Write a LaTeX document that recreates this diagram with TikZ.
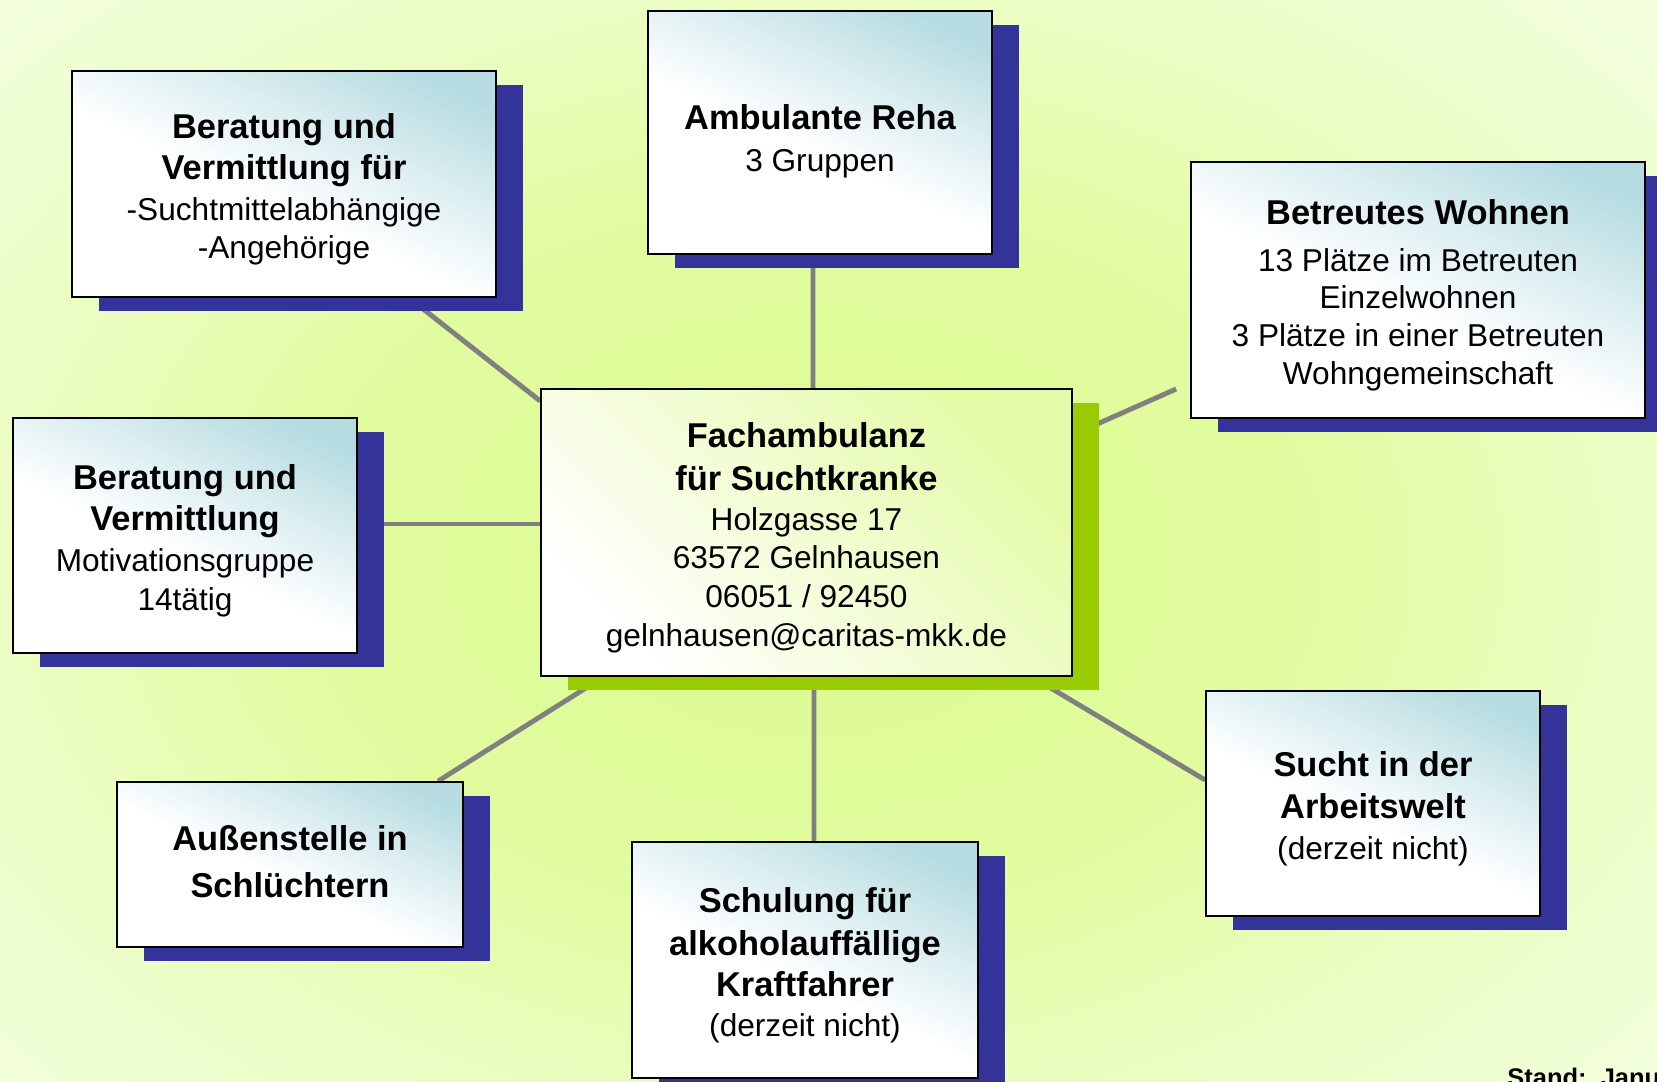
\documentclass[tikz,border=0pt]{standalone}
\usepackage{fontspec}
\setmainfont{Liberation Sans}
\usepackage{xcolor}
\usepackage{tikz}
\usetikzlibrary{calc}
\usetikzlibrary{shadows}
\pgfdeclarelayer{bglayer}
\pgfdeclarelayer{edgelayer}
\pgfsetlayers{bglayer,edgelayer,main}

\definecolor{bgcore}{HTML}{DCFB90}
\definecolor{bgnear}{HTML}{E1FCA0}
\definecolor{bgmid}{HTML}{EAFDBE}
\definecolor{bgfar}{HTML}{F3FEE0}
\definecolor{bgedge}{HTML}{FBFFF4}
\definecolor{boxteal}{HTML}{B6DCE1}
\definecolor{hubtint}{HTML}{E4FBA8}
\definecolor{navyshadow}{HTML}{333399}
\definecolor{limeshadow}{HTML}{99CC00}
\definecolor{spokegray}{HTML}{808080}

\pgfdeclareradialshading{glow}{\pgfpoint{0bp}{0bp}}{color(0bp)=(bgcore); color(14bp)=(bgnear); color(21bp)=(bgmid); color(32bp)=(bgfar); color(42bp)=(bgedge); color(75bp)=(bgedge)}
\pgfdeclareverticalshading{tealfade}{100bp}{color(0bp)=(white); color(46bp)=(white); color(62bp)=(boxteal!50!white); color(77bp)=(boxteal); color(100bp)=(boxteal)}

\newcommand{\hd}[1]{{\fontsize{19.6}{22}\selectfont\bfseries #1}}
\newcommand{\headroom}[1]{\rule{0pt}{#1}}

\tikzset{
    unit/.style={draw=black, line width=1pt, align=center, inner sep=0pt,
        shading=tealfade, shading angle=-25,
        general shadow={fill=navyshadow, shadow xshift=0.54cm, shadow yshift=-0.28cm}},
    hub/.style={draw=black, line width=1pt, align=center, inner sep=0pt,
        top color=hubtint, middle color=hubtint!45!white, bottom color=white, shading angle=-45,
        general shadow={fill=limeshadow, shadow xshift=0.54cm, shadow yshift=-0.28cm}},
    spokeline/.style={draw=spokegray, line width=2.8pt},
}

\begin{document}
\begin{tikzpicture}[x=0.02cm, y=-0.02cm, font=\fontsize{18}{22}\selectfont]
        \useasboundingbox (0,0) rectangle (1657,1082);
        \begin{pgfonlayer}{bglayer}
            \begin{scope}
                \clip (0,0) rectangle (1657,1082);
                \shade [shading=glow] (-100,-80) rectangle (1720,1200);
            \end{scope}
        \end{pgfonlayer}
        % centre and the seven units round it
        \node [hub, minimum width=10.62cm, minimum height=5.74cm] (0) at (806.5,532.5) {\hd{\headroom{20.3pt}Fachambulanz}\\[2pt]\hd{für Suchtkranke}\\[0.8pt]Holzgasse 17\\63572 Gelnhausen\\06051 / 92450\\gelnhausen@caritas-mkk.de};
        \node [unit, minimum width=8.48cm, minimum height=4.52cm] (1) at (284,184) {\hd{\headroom{20.3pt}Beratung und}\\[1.4pt]\hd{Vermittlung für}\\[1.4pt]-Suchtmittelabhängige\\-Angehörige};
        \node [unit, minimum width=6.88cm, minimum height=4.86cm] (2) at (820,132.5) {\hd{\headroom{23.9pt}Ambulante Reha}\\[2pt]3 Gruppen};
        \node [unit, minimum width=9.08cm, minimum height=5.12cm] (3) at (1418,290) {\hd{\headroom{20.3pt}Betreutes Wohnen}\\[4.4pt]13 Plätze im Betreuten\\[-0.5pt]Einzelwohnen\\[-0.5pt]3 Plätze in einer Betreuten\\[-0.5pt]Wohngemeinschaft};
        \node [unit, minimum width=6.68cm, minimum height=4.50cm] (4) at (1373,803.5) {\hd{\headroom{20.3pt}Sucht in der}\\[1.4pt]\hd{Arbeitswelt}\\[1.4pt](derzeit nicht)};
        \node [unit, minimum width=6.92cm, minimum height=4.72cm] (5) at (805,960) {\hd{\headroom{20.3pt}Schulung für}\\[2pt]\hd{alkoholauffällige}\\[1.4pt]\hd{Kraftfahrer}\\[0.8pt](derzeit nicht)};
        \node [unit, minimum width=6.92cm, minimum height=3.30cm] (6) at (290,864.5) {\hd{Außenstelle in}\\[4.4pt]\hd{Schlüchtern\rule[-3.6pt]{0pt}{3.6pt}}};
        \node [unit, minimum width=6.88cm, minimum height=4.70cm] (7) at (185,535.5) {\hd{\headroom{20.3pt}Beratung und}\\[1.4pt]\hd{Vermittlung}\\[1.4pt]Motivationsgruppe\\14tätig};
        \node [anchor=base west, inner sep=0pt, font=\fontsize{14.5}{17}\selectfont\bfseries] (8) at (1507,1086) {Stand:\ \ Janu};
        \coordinate (9) at ($(3.west)+(-14,99)$);
        \begin{pgfonlayer}{edgelayer}
            \draw [spokeline] ($(1.south)+(125,0)$) to ($(0.west)+(0,-131.5)$);
            \draw [spokeline] ($(2.south)+(-7,0)$) to ($(0.north)+(6.5,0)$);
            \draw [spokeline] ($(0.east)+(0,-97.7)$) to (9);
            \draw [spokeline] ($(7.east)+(0,-11.5)$) to ($(0.west)+(0,-8.5)$);
            \draw [spokeline] ($(6.north)+(148,0)$) to ($(0.south)+(-203,0)$);
            \draw [spokeline] ($(5.north)+(9,0)$) to ($(0.south)+(7.5,0)$);
            \draw [spokeline] ($(0.south)+(225.5,0)$) to ($(4.west)+(0,-23.5)$);
        \end{pgfonlayer}
    \end{tikzpicture}
\end{document}
